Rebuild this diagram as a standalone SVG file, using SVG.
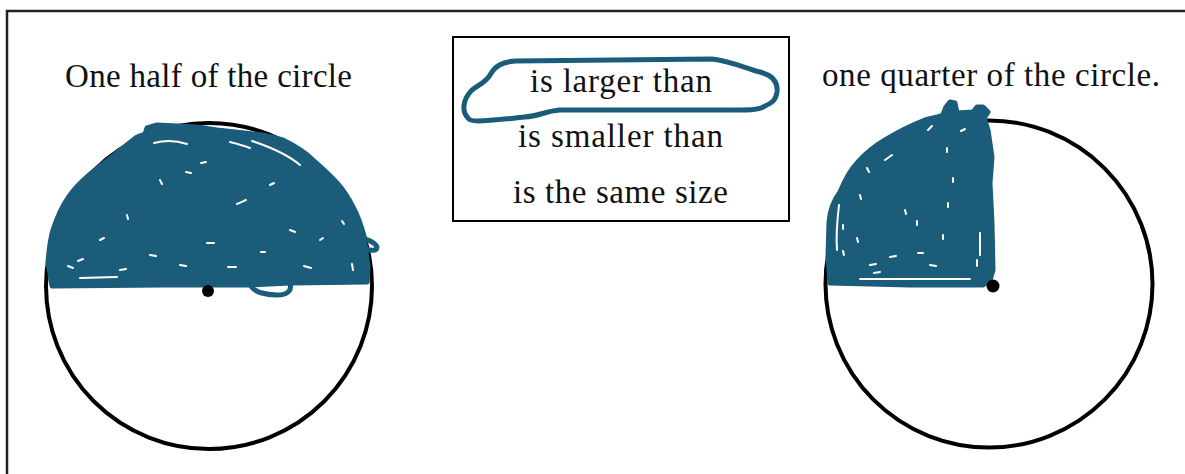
<svg xmlns="http://www.w3.org/2000/svg" width="1185" height="474" viewBox="0 0 1185 474">
<style>
.lbl{font-family:"Liberation Serif","Times New Roman",serif;font-size:33px;fill:#111;}
.circ{fill:none;stroke:#000;stroke-width:4;}
.dot{fill:#000;}
.ink{fill:#1a5c79;stroke:#1a5c79;stroke-width:5;stroke-linejoin:round;stroke-linecap:round;}
.loop{fill:none;stroke:#1a5c79;stroke-width:5;stroke-linejoin:round;stroke-linecap:round;}
.spk{fill:none;stroke:#fff;stroke-width:2;stroke-linecap:round;}
</style>
<rect x="0" y="0" width="1185" height="474" fill="#fff"/>
<rect id="frame" x="7" y="11" width="1200" height="500" fill="none" stroke="#222" stroke-width="2.5"/>

<g id="left-label">
<text class="lbl" x="65" y="87" textLength="287" lengthAdjust="spacing">One half of the circle</text>
</g>

<g id="left-circle">
<circle class="circ" cx="209" cy="286" r="163"/>
<path class="ink" d="M52,286 L48,262 C49,250 50,240 53,230 C57,218 61,208 68,198 C74,189 81,182 88,176 C96,169 104,163 112,157 C118,152 123,148 128,144 L137,137 L145,134 L147,128 L157,125 L197,127 L217,130 L263,135 L283,140 C295,146 305,152 313,160 C322,168 330,175 337,183 C345,192 349,199 353,207 C358,216 361,225 364,236 L368,267 L367,282 L290,283 L250,285 L163,285 Z"/>
<path class="loop" d="M362,238 C368,240 375,242 377,247 C377,251 372,251 365,249"/>
<path class="loop" d="M290,284 C292,290 288,295 277,295 C266,295 254,292 251,286"/>
<g id="left-speckles">
<path class="spk" d="M154,143 C165,140 178,141 187,144"/>
<path class="spk" d="M230,142 C238,144 245,146 250,148"/>
<path class="spk" d="M252,141 C270,147 288,155 300,165"/>
<path class="spk" d="M201,163 L206,162"/>
<path class="spk" d="M186,172 L191,173"/>
<path class="spk" d="M237,204 C241,202 244,201 246,200"/>
<path class="spk" d="M78,261 L83,259"/>
<path class="spk" d="M207,243 L214,243"/>
<path class="spk" d="M228,267 L236,267"/>
<path class="spk" d="M304,266 L311,268"/>
<path class="spk" d="M261,252 L265,252"/>
<path class="spk" d="M127,215 L128,219"/>
<path class="spk" d="M342,221 L344,224"/>
<path class="spk" d="M352,264 L353,270"/>
<path class="spk" d="M68,266 L73,268"/>
<path class="spk" d="M80,278 L117,277"/>
<path class="spk" d="M160,180 L162,184"/>
<path class="spk" d="M100,240 L104,238"/>
<path class="spk" d="M150,255 L156,256"/>
<path class="spk" d="M270,185 L274,183"/>
<path class="spk" d="M320,240 L323,238"/>
<path class="spk" d="M180,265 L186,266"/>
<path class="spk" d="M120,270 L126,269"/>
<path class="spk" d="M290,230 L295,232"/>
</g>
<circle class="dot" cx="208" cy="291" r="6"/>
</g>

<g id="choices">
<rect x="453" y="37" width="336" height="184" fill="none" stroke="#000" stroke-width="2"/>
<text class="lbl" x="530" y="92" textLength="182" lengthAdjust="spacing">is larger than</text>
<text class="lbl" x="518" y="147" textLength="205" lengthAdjust="spacing">is smaller than</text>
<text class="lbl" x="513" y="203" textLength="215" lengthAdjust="spacing">is the same size</text>
<path class="loop" d="M468,118 C462,112 462,100 472,90 C480,84 486,82 490,75 C495,66 502,62 515,61 L712,59 C730,61 745,68 760,72 C772,75 778,82 777,92 C776,100 772,103 765,106 C760,110 750,110 735,110 L560,110 C545,111 540,116 525,117 C505,119 490,121 478,121 C472,121 469,120 468,118 Z"/>
</g>

<g id="right-label">
<text class="lbl" x="822" y="86" textLength="338" lengthAdjust="spacing">one quarter of the circle.</text>
</g>

<g id="right-circle">
<circle class="circ" cx="989" cy="284" r="163.5"/>
<path class="ink" d="M830,283 L828,257 L829,222 C830,210 834,200 840,192 C845,180 850,170 858,162 C866,153 875,146 885,140 C898,132 912,125 925,120 L937,117 L943,115 L946,107 L950,102 L955,103 L957,113 L973,112 L977,107 L983,107 L988,112 L984,118 L988,130 L992,157 L990,183 L992,223 L993,270 L990,280 L983,285 L910,285 Z"/>
<g id="right-speckles">
<path class="spk" d="M928,130 L932,126"/>
<path class="spk" d="M961,131 L965,129"/>
<path class="spk" d="M947,148 L947,152"/>
<path class="spk" d="M867,168 L869,172"/>
<path class="spk" d="M860,195 L861,199"/>
<path class="spk" d="M948,203 L948,207"/>
<path class="spk" d="M953,178 L953,182"/>
<path class="spk" d="M917,221 L917,225"/>
<path class="spk" d="M943,235 L943,239"/>
<path class="spk" d="M857,238 L858,242"/>
<path class="spk" d="M843,225 L843,229"/>
<path class="spk" d="M843,251 L844,255"/>
<path class="spk" d="M890,257 L896,256"/>
<path class="spk" d="M918,253 L923,253"/>
<path class="spk" d="M980,233 L980,255"/>
<path class="spk" d="M977,260 L977,266"/>
<path class="spk" d="M874,273 L880,272"/>
<path class="spk" d="M860,279 L970,279"/>
<path class="spk" d="M839,205 C837,222 836,238 837,250"/>
<path class="spk" d="M885,160 L892,155" stroke="#111"/>
<path class="spk" d="M905,210 L906,214"/>
<path class="spk" d="M870,265 L876,264"/>
<path class="spk" d="M930,265 L936,266"/>
</g>
<circle class="dot" cx="993" cy="286" r="6.5"/>
</g>
</svg>
